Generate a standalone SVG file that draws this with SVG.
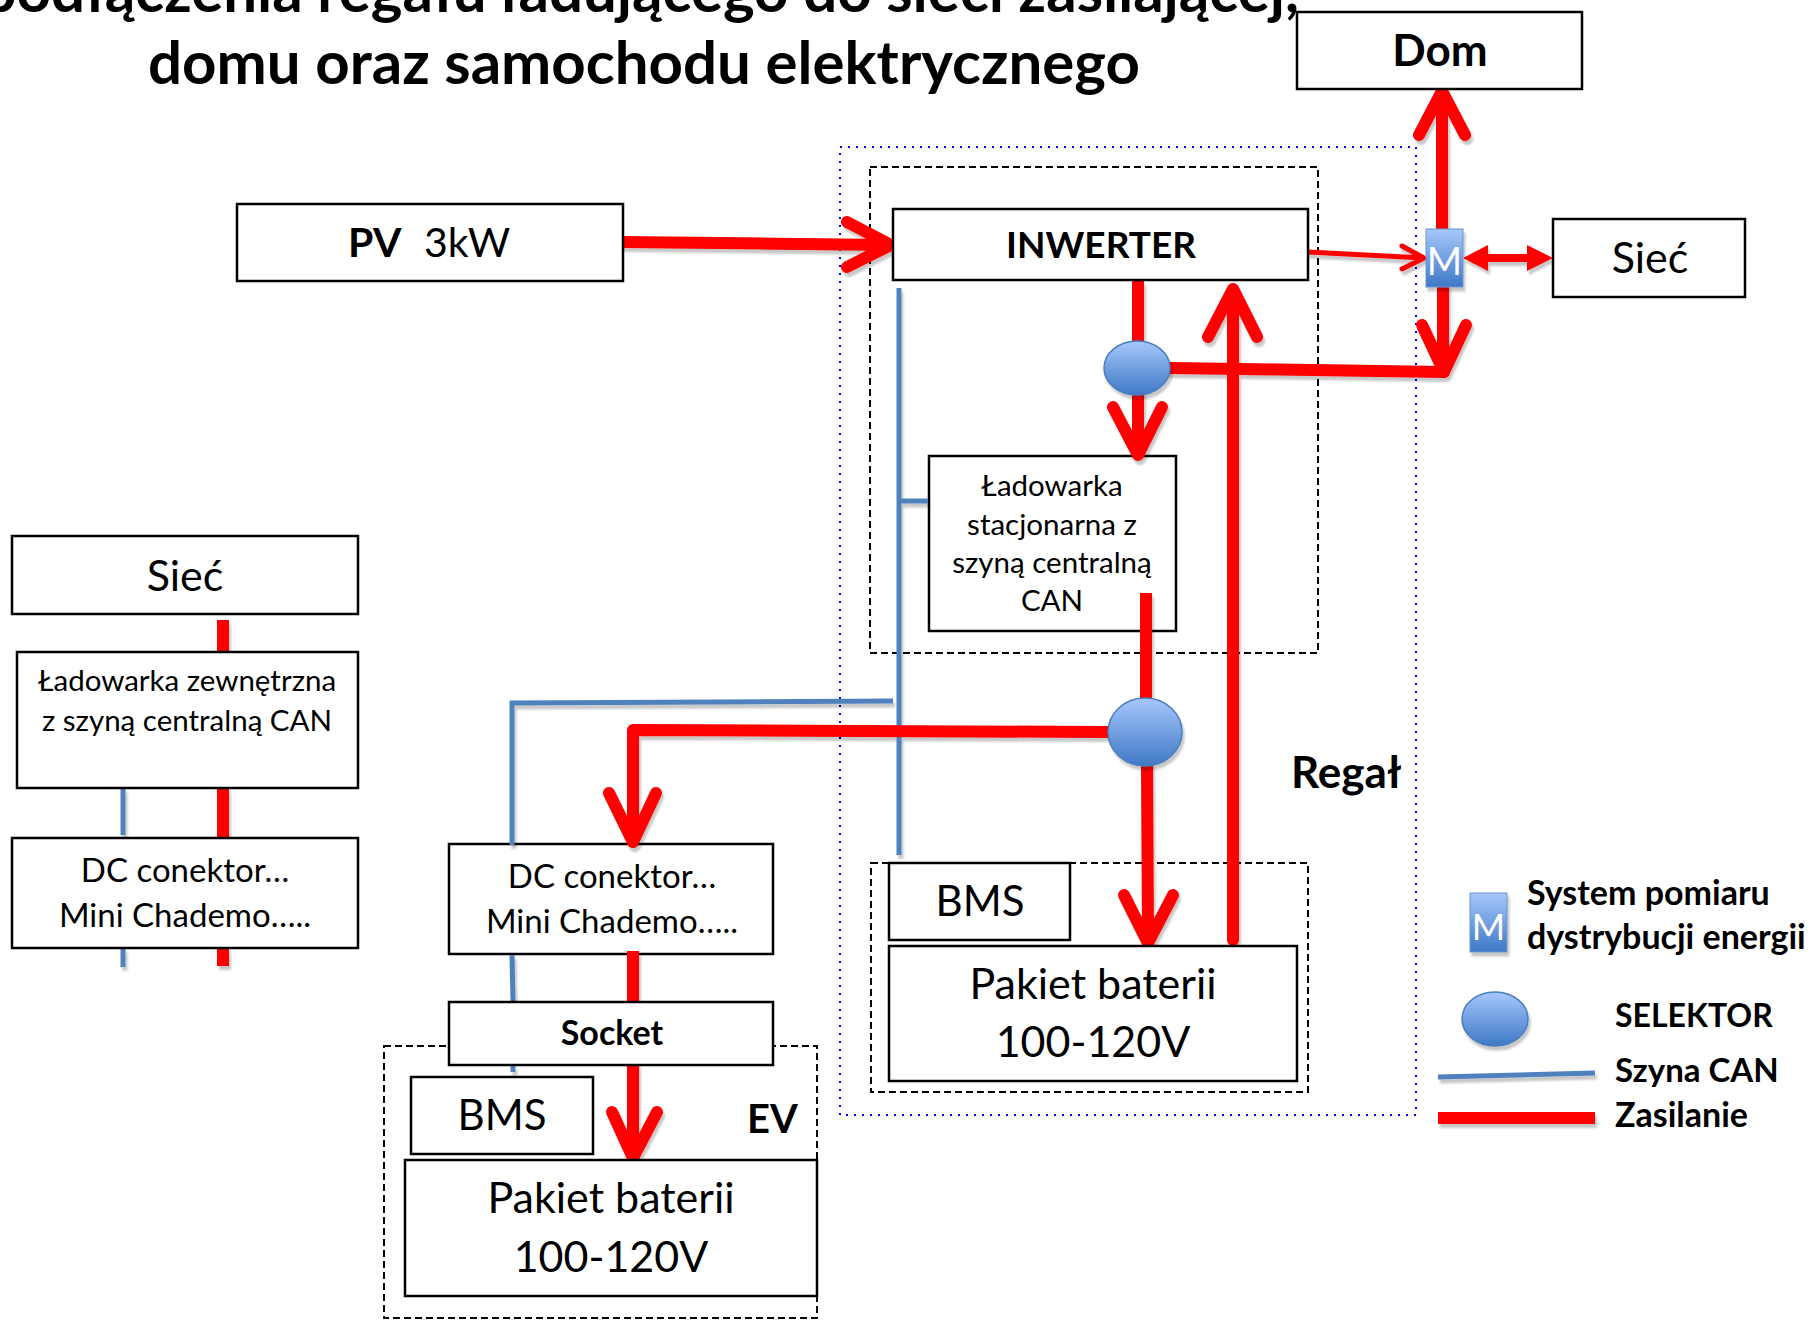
<svg xmlns="http://www.w3.org/2000/svg" width="1819" height="1320" viewBox="0 0 1819 1320">
<defs>
<linearGradient id="g" x1="0" y1="0" x2="0" y2="1">
<stop offset="0" stop-color="#a6c8fb"/>
<stop offset="1" stop-color="#3f78c6"/>
</linearGradient>
<filter id="sh" filterUnits="userSpaceOnUse" x="0" y="0" width="1819" height="1320">
<feDropShadow dx="2" dy="4" stdDeviation="1.2" flood-color="#000" flood-opacity="0.22"/>
</filter>
<style>
.box{fill:#fff;stroke:#000;stroke-width:2.5}
.dash{fill:none;stroke:#000;stroke-width:2;stroke-dasharray:7 4}
.dot{fill:none;stroke:#0000ff;stroke-width:2;stroke-dasharray:2 6}
.t{font-family:Lato,"Open Sans","Liberation Sans",sans-serif;fill:#000;text-anchor:middle}
.b{font-weight:bold}
.s{text-anchor:start}
.red{fill:none;stroke:#ff0000;stroke-width:12;stroke-linecap:round;stroke-linejoin:round}
.redb{fill:none;stroke:#ff0000;stroke-width:12;stroke-linecap:butt}
.thin{fill:none;stroke:#ff0000;stroke-width:5;stroke-linecap:round;stroke-linejoin:round}
.can{fill:none;stroke:#4f81bd;stroke-width:5;stroke-linecap:butt}
.sel{fill:url(#g);stroke:#4a7ebb;stroke-width:1.5}
.mbox{fill:url(#g);stroke:#6b96cf;stroke-width:1}
.mt{font-family:Lato,"Open Sans","Liberation Sans",sans-serif;fill:#fff;text-anchor:middle}
</style>
</defs>
<rect width="1819" height="1320" fill="#fff"/>

<g id="title">
<text class="t b" x="1299" y="12" font-size="60" style="text-anchor:end">podłączenia regału ładującego do sieci zasilającej,</text>
<text class="t b" x="644" y="84" font-size="60">domu oraz samochodu elektrycznego</text>
</g>

<g id="regal-group">
<rect class="dot" x="840" y="147" width="576" height="968"/>
<text class="t b s" x="1291" y="788" font-size="44">Regał</text>
</g>
<g id="inverter-group"><rect class="dash" x="870" y="167" width="448" height="486"/></g>
<g id="battery-group"><rect class="dash" x="871" y="863" width="437" height="229"/></g>
<g id="ev-group">
<rect class="dash" x="384" y="1046" width="433" height="272"/>
<text class="t b s" x="747" y="1133" font-size="40">EV</text>
</g>

<g id="ladowarka-stacjonarna">
<rect class="box" x="929" y="456" width="247" height="175"/>
<text class="t" x="1052" y="496" font-size="29.5">Ładowarka</text>
<text class="t" x="1052" y="535" font-size="29.5">stacjonarna z</text>
<text class="t" x="1052" y="573" font-size="29.5">szyną centralną</text>
<text class="t" x="1052" y="611" font-size="29.5">CAN</text>
</g>
<g id="dc-right">
<rect class="box" x="449" y="844" width="324" height="110"/>
<text class="t" x="612" y="888" font-size="33">DC conektor…</text>
<text class="t" x="612" y="933" font-size="33">Mini Chademo…..</text>
</g>

<g id="connectors">
<g filter="url(#sh)">
<path class="can" d="M899,288 L899,855"/>
<path class="can" d="M899,501 L928,501"/>
<path class="can" d="M893,701 L512,703 L512,845"/>
<path class="can" d="M512,955 L513,1002"/>
<path class="can" d="M513,1066 L513,1072"/>
<path class="can" d="M123,788 L123,835"/>
<path class="can" d="M123,948 L123,967"/>
<path class="red" d="M623,242 L889,245 M847,222 L891,245 L847,267"/>
<path class="thin" d="M1308,252 L1424,258 M1402,246 L1424,258 L1402,269"/>
<path class="red" d="M1442,228 L1442,92 M1419,135 L1442,91 L1465,135"/>
<path class="red" d="M1443,287 L1443,370 M1422,325 L1444,372 L1466,325"/>
<path class="red" d="M1170,368 L1444,372"/>
<path fill="none" stroke="#ff0000" stroke-width="8" d="M1484,258 L1530,258"/>
<path fill="#ff0000" d="M1463,258 L1488,245 L1488,271 Z M1553,258 L1527,245 L1527,271 Z"/>
<path class="redb" d="M1138,281 L1138,345"/>
<path class="red" d="M1138,392 L1138,452 M1113,407 L1138,455 L1162,407"/>
<path class="red" d="M1233,940 L1233,292 M1208,337 L1233,289 L1257,337"/>
<path class="redb" d="M1146,593 L1146,700"/>
<path class="red" d="M1147,766 L1148,940 M1124,895 L1148,943 L1173,895"/>
<path class="red" d="M1108,732 L633,730 L633,840 M609,793 L633,842 L656,793"/>
<path class="redb" d="M633,951 L633,1002"/>
<path class="red" d="M633,1065 L633,1155 M612,1112 L633,1158 L657,1112"/>
<path class="redb" d="M223,620 L223,652"/>
<path class="redb" d="M223,788 L223,837"/>
<path class="redb" d="M223,948 L223,966"/>
</g>
</g>

<g id="pv">
<rect class="box" x="237" y="204" width="386" height="77"/>
<text class="t s" x="348" y="257" font-size="41"><tspan font-weight="bold">PV</tspan><tspan x="424">3kW</tspan></text>
</g>
<g id="inwerter">
<rect class="box" x="893" y="209" width="415" height="71"/>
<text class="t b" x="1101" y="258" font-size="37">INWERTER</text>
</g>
<g id="dom">
<rect class="box" x="1297" y="12" width="285" height="77"/>
<text class="t b" x="1440" y="66" font-size="44">Dom</text>
</g>
<g id="siec-right">
<rect class="box" x="1553" y="219" width="192" height="78"/>
<text class="t" x="1650" y="273" font-size="43">Sieć</text>
</g>
<g id="meter">
<rect class="mbox" x="1426" y="229" width="37" height="58" filter="url(#sh)"/>
<text class="mt" x="1444.5" y="275" font-size="38">M</text>
</g>
<g id="selector1"><ellipse class="sel" cx="1137" cy="368" rx="33" ry="27" filter="url(#sh)"/></g>
<g id="selector2"><ellipse class="sel" cx="1145" cy="732" rx="37" ry="34" filter="url(#sh)"/></g>
<g id="bms-regal">
<rect class="box" x="889" y="863" width="181" height="77"/>
<text class="t" x="980" y="916" font-size="42">BMS</text>
</g>
<g id="pakiet-regal">
<rect class="box" x="889" y="946" width="408" height="135"/>
<text class="t" x="1093" y="999" font-size="43">Pakiet baterii</text>
<text class="t" x="1093" y="1057" font-size="43">100-120V</text>
</g>
<g id="socket">
<rect class="box" x="449" y="1002" width="324" height="63"/>
<text class="t b" x="612" y="1045" font-size="34">Socket</text>
</g>
<g id="bms-ev">
<rect class="box" x="411" y="1077" width="182" height="77"/>
<text class="t" x="502" y="1130" font-size="42">BMS</text>
</g>
<g id="pakiet-ev">
<rect class="box" x="405" y="1160" width="412" height="136"/>
<text class="t" x="611" y="1213" font-size="43">Pakiet baterii</text>
<text class="t" x="611" y="1272" font-size="43">100-120V</text>
</g>
<g id="siec-left">
<rect class="box" x="12" y="536" width="346" height="78"/>
<text class="t" x="185" y="591" font-size="43">Sieć</text>
</g>
<g id="ladowarka-zewnetrzna">
<rect class="box" x="17" y="652" width="341" height="136"/>
<text class="t" x="187" y="691" font-size="29.5">Ładowarka zewnętrzna</text>
<text class="t" x="187" y="731" font-size="29.5">z szyną centralną CAN</text>
</g>
<g id="dc-left">
<rect class="box" x="12" y="838" width="346" height="110"/>
<text class="t" x="185" y="882" font-size="33">DC conektor…</text>
<text class="t" x="185" y="927" font-size="33">Mini Chademo…..</text>
</g>

<g id="legend">
<rect class="mbox" x="1470" y="893" width="37" height="59" filter="url(#sh)"/>
<text class="mt" x="1488.5" y="940" font-size="36">M</text>
<text class="t b s" x="1527" y="905" font-size="34">System pomiaru</text>
<text class="t b s" x="1527" y="949" font-size="34">dystrybucji energii</text>
<ellipse class="sel" cx="1495" cy="1019" rx="33" ry="27" filter="url(#sh)"/>
<text class="t b s" x="1615" y="1027" font-size="32">SELEKTOR</text>
<path class="can" d="M1438,1077 L1595,1073" filter="url(#sh)"/>
<text class="t b s" x="1615" y="1082" font-size="33">Szyna CAN</text>
<path class="redb" d="M1438,1118 L1595,1118" filter="url(#sh)"/>
<text class="t b s" x="1615" y="1127" font-size="34">Zasilanie</text>
</g>
</svg>
